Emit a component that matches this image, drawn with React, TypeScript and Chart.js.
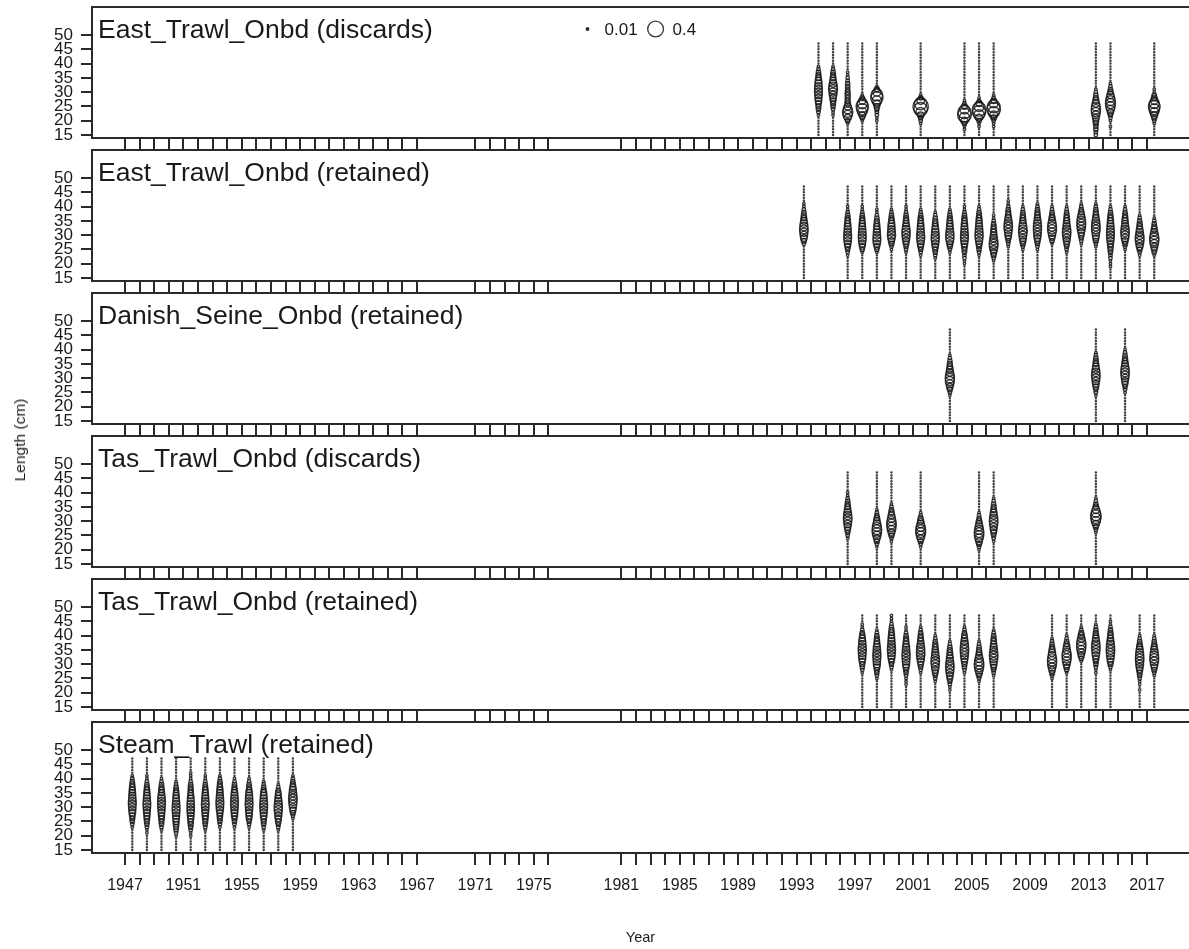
import React, { useEffect, useRef } from "react";
import { Chart, registerables } from "chart.js";

Chart.register(...registerables);

// ---------------- data ----------------
const LENGTH_BINS = [15, 16, 17, 18, 19, 20, 21, 22, 23, 24, 25, 26, 27, 28, 29, 30, 31, 32, 33, 34, 35, 36, 37, 38, 39, 40, 41, 42, 43, 44, 45, 46, 47];
const Y_TICKS = [15, 20, 25, 30, 35, 40, 45, 50];
const TICK_YEARS = [
  1947, 1948, 1949, 1950, 1951, 1952, 1953, 1954, 1955, 1956, 1957, 1958, 1959, 1960, 1961, 1962, 1963, 1964, 1965, 1966, 1967,
  1971, 1972, 1973, 1974, 1975, 1976,
  1981, 1982, 1983, 1984, 1985, 1986, 1987, 1988, 1989, 1990, 1991, 1992, 1993, 1994, 1995, 1996, 1997, 1998, 1999, 2000,
  2001, 2002, 2003, 2004, 2005, 2006, 2007, 2008, 2009, 2010, 2011, 2012, 2013, 2014, 2015, 2016, 2017,
];
const LABEL_YEARS = [1947, 1951, 1955, 1959, 1963, 1967, 1971, 1975, 1981, 1985, 1989, 1993, 1997, 2001, 2005, 2009, 2013, 2017];
const LEGEND_PROPS = [0.01, 0.4];
const LEGEND_LABELS = ["0.01", "0.4"];
// samples are plotted at mid-year (season 1 mid-point)
const MID_YEAR = 0.5;

// East_Trawl_Onbd (discards): year, first length bin listed, percent by 1 cm bin
const EAST_DISC_YEARS = [1994, 1995, 1996, 1997, 1998, 2001, 2004, 2005, 2006, 2013, 2014, 2017];
const EAST_DISC_FROM = [22, 22, 19, 20, 20, 19, 17, 18, 18, 15, 18, 19];
const EAST_DISC_PCT = [
  [1, 2, 3, 4, 5, 7, 8, 9, 10, 10, 9, 8, 7, 5, 4, 3, 2, 1],
  [1, 1, 2, 3, 4, 5, 7, 9, 11, 13, 12, 9, 7, 5, 4, 3, 2, 1],
  [1, 3, 8, 14, 17, 13, 8, 5, 4, 4, 4, 4, 3, 3, 3, 2, 2, 1, 1],
  [1, 3, 7, 13, 20, 24, 17, 8, 3, 1],
  [1, 1, 2, 2, 3, 5, 8, 15, 24, 22, 10, 4, 1],
  [1, 2, 3, 6, 14, 30, 38, 24, 9, 3, 1],
  [1, 1, 3, 8, 18, 30, 28, 14, 5, 2, 1],
  [1, 1, 3, 8, 18, 28, 30, 16, 6, 2, 1],
  [1, 1, 2, 5, 10, 20, 30, 26, 12, 5, 2, 1],
  [2, 2, 3, 3, 4, 5, 7, 10, 13, 14, 12, 9, 6, 4, 3, 2, 1],
  [1, 0, 1, 2, 3, 6, 10, 14, 16, 15, 11, 8, 5, 3, 2, 1],
  [1, 2, 4, 7, 12, 18, 22, 16, 9, 5, 3, 1, 1],
];

// East_Trawl_Onbd (retained)
const EAST_RET_YEARS = [1993, 1996, 1997, 1998, 1999, 2000, 2001, 2002, 2003, 2004, 2005, 2006, 2007, 2008, 2009, 2010, 2011, 2012, 2013, 2014, 2015, 2016, 2017];
const EAST_RET_FROM = [27, 23, 24, 24, 25, 24, 23, 22, 24, 20, 23, 21, 26, 25, 25, 27, 24, 27, 26, 19, 25, 23, 23];
const EAST_RET_PCT = [
  [2, 4, 7, 9, 11, 12, 11, 9, 7, 5, 4, 3, 2, 1, 1],
  [1, 2, 3, 5, 7, 9, 10, 10, 9, 8, 7, 6, 5, 4, 3, 2, 1, 1],
  [1, 3, 5, 7, 9, 10, 10, 9, 8, 7, 6, 5, 4, 3, 2, 1, 1],
  [1, 3, 5, 8, 10, 10, 9, 8, 7, 6, 5, 4, 3, 2, 1, 1],
  [1, 2, 4, 6, 9, 11, 10, 9, 8, 7, 5, 4, 3, 2, 1],
  [1, 2, 3, 5, 7, 9, 11, 11, 10, 8, 6, 5, 4, 3, 2, 1, 1],
  [1, 2, 3, 5, 7, 9, 11, 10, 9, 8, 7, 6, 5, 4, 3, 2, 1],
  [1, 2, 3, 4, 6, 8, 10, 11, 10, 9, 8, 6, 5, 4, 3, 2, 1],
  [1, 2, 4, 6, 9, 11, 11, 10, 8, 7, 6, 5, 4, 3, 2, 1],
  [1, 1, 2, 2, 3, 4, 5, 7, 9, 10, 10, 9, 8, 7, 6, 5, 4, 3, 2, 1, 1],
  [1, 2, 3, 4, 6, 8, 10, 11, 10, 9, 8, 7, 6, 5, 4, 3, 2, 1],
  [1, 2, 4, 6, 9, 12, 13, 11, 9, 7, 6, 5, 4, 3, 2, 1, 1],
  [1, 2, 3, 5, 7, 9, 11, 12, 11, 9, 7, 5, 4, 3, 2, 1, 1],
  [1, 2, 4, 6, 8, 10, 12, 12, 10, 8, 6, 5, 4, 3, 2, 1],
  [1, 2, 3, 5, 7, 9, 10, 11, 11, 10, 8, 6, 5, 4, 3, 2, 1],
  [1, 3, 5, 8, 11, 13, 13, 11, 8, 6, 4, 3, 2, 1],
  [1, 2, 3, 5, 7, 9, 11, 12, 11, 9, 7, 6, 5, 4, 3, 2, 1],
  [1, 2, 3, 5, 7, 10, 12, 13, 12, 10, 7, 5, 3, 2, 1],
  [1, 2, 4, 6, 8, 10, 12, 12, 11, 9, 7, 5, 4, 3, 2, 1],
  [1, 1, 1, 2, 2, 3, 4, 5, 6, 8, 9, 10, 10, 9, 8, 7, 6, 5, 4, 3, 2, 1],
  [1, 2, 4, 6, 9, 11, 12, 11, 9, 7, 6, 5, 4, 3, 2, 1],
  [1, 2, 4, 7, 10, 12, 13, 11, 9, 7, 5, 4, 3, 2, 1],
  [1, 3, 5, 8, 11, 14, 14, 11, 8, 6, 4, 3, 2, 1],
];

// Danish_Seine_Onbd (retained)
const DANISH_RET_YEARS = [2003, 2013, 2015];
const DANISH_RET_FROM = [24, 24, 25];
const DANISH_RET_PCT = [
  [1, 2, 4, 7, 10, 13, 14, 12, 9, 7, 5, 4, 3, 2, 1],
  [1, 2, 3, 5, 7, 9, 11, 12, 11, 9, 7, 5, 4, 3, 2, 1],
  [1, 2, 3, 5, 7, 9, 11, 12, 11, 9, 7, 5, 4, 3, 2, 1],
];

// Tas_Trawl_Onbd (discards)
const TAS_DISC_YEARS = [1996, 1998, 1999, 2001, 2005, 2006, 2013];
const TAS_DISC_FROM = [24, 21, 23, 21, 20, 23, 26];
const TAS_DISC_PCT = [
  [1, 2, 3, 5, 7, 9, 11, 12, 11, 9, 7, 5, 4, 3, 2, 1, 1],
  [1, 2, 4, 7, 11, 14, 15, 13, 10, 7, 5, 3, 2, 1],
  [1, 2, 4, 7, 11, 14, 15, 13, 10, 7, 5, 3, 2, 1],
  [1, 2, 4, 8, 12, 16, 16, 13, 9, 6, 4, 2, 1],
  [1, 2, 4, 7, 11, 14, 15, 13, 10, 7, 5, 3, 2, 1],
  [1, 2, 3, 5, 7, 9, 11, 12, 11, 9, 7, 5, 4, 3, 2, 1],
  [1, 2, 4, 8, 13, 17, 18, 14, 9, 5, 3, 2, 1],
];

// Tas_Trawl_Onbd (retained)
const TAS_RET_YEARS = [1997, 1998, 1999, 2000, 2001, 2002, 2003, 2004, 2005, 2006, 2010, 2011, 2012, 2013, 2014, 2016, 2017];
const TAS_RET_FROM = [27, 25, 28, 23, 27, 24, 21, 27, 24, 26, 25, 27, 31, 27, 28, 21, 26];
const TAS_RET_PCT = [
  [1, 2, 3, 4, 6, 8, 9, 10, 11, 10, 9, 8, 6, 5, 3, 2, 1, 1],
  [1, 2, 3, 4, 6, 8, 9, 10, 11, 10, 9, 8, 6, 5, 4, 3, 2, 1],
  [1, 2, 3, 5, 7, 9, 10, 11, 10, 9, 8, 7, 6, 5, 4, 3, 2, 1, 1, 1],
  [1, 1, 1, 2, 3, 4, 6, 8, 9, 10, 11, 10, 9, 8, 6, 5, 4, 3, 2, 1, 1],
  [1, 2, 3, 5, 7, 9, 11, 12, 11, 10, 8, 6, 5, 4, 3, 2, 1],
  [1, 2, 3, 5, 7, 9, 11, 12, 11, 9, 8, 6, 5, 4, 3, 2, 1],
  [1, 1, 2, 3, 5, 7, 9, 11, 12, 11, 9, 8, 6, 5, 4, 3, 2, 1],
  [1, 2, 3, 4, 6, 8, 10, 11, 12, 11, 10, 8, 6, 5, 3, 2, 1],
  [1, 2, 4, 7, 11, 14, 15, 13, 10, 7, 5, 4, 3, 2, 1],
  [1, 2, 3, 5, 7, 9, 11, 12, 11, 9, 8, 6, 5, 4, 3, 2, 1],
  [1, 2, 4, 7, 10, 13, 14, 13, 10, 8, 6, 4, 3, 2, 1],
  [1, 3, 5, 8, 11, 13, 14, 12, 9, 7, 5, 3, 2, 1],
  [1, 3, 6, 9, 12, 14, 14, 12, 9, 6, 4, 2, 1],
  [1, 1, 2, 3, 4, 6, 8, 10, 11, 12, 11, 9, 7, 5, 4, 3, 2, 1],
  [1, 2, 4, 6, 8, 10, 11, 12, 11, 10, 8, 6, 5, 4, 3, 2, 1, 1],
  [1, 0, 1, 1, 2, 3, 4, 6, 8, 10, 11, 12, 11, 10, 8, 6, 4, 3, 2, 1],
  [1, 2, 4, 6, 9, 12, 13, 12, 10, 8, 6, 4, 3, 2, 1],
];

// Steam_Trawl (retained)
const STEAM_RET_YEARS = [1947, 1948, 1949, 1950, 1951, 1952, 1953, 1954, 1955, 1956, 1957, 1958];
const STEAM_RET_FROM = [23, 21, 22, 20, 20, 22, 23, 23, 23, 22, 22, 26];
const STEAM_RET_PCT = [
  [1, 2, 3, 4, 5, 7, 8, 9, 10, 10, 9, 8, 7, 6, 5, 4, 3, 2, 1],
  [1, 1, 2, 3, 4, 5, 6, 7, 8, 9, 10, 9, 8, 7, 6, 5, 4, 3, 2, 1, 1],
  [1, 2, 3, 4, 5, 6, 7, 8, 9, 10, 10, 9, 8, 6, 5, 4, 3, 2, 1],
  [1, 2, 3, 4, 5, 6, 7, 8, 9, 10, 10, 9, 8, 7, 6, 5, 4, 3, 2, 1],
  [1, 1, 2, 3, 4, 5, 6, 7, 8, 9, 9, 9, 8, 7, 6, 5, 4, 4, 3, 2, 1, 1, 1],
  [1, 2, 3, 4, 5, 6, 7, 8, 9, 10, 9, 8, 7, 6, 5, 4, 3, 2, 1, 1],
  [1, 2, 3, 4, 5, 6, 8, 9, 10, 10, 9, 8, 7, 6, 5, 4, 3, 2, 1],
  [1, 2, 3, 4, 6, 7, 8, 9, 10, 10, 9, 8, 7, 5, 4, 3, 2, 1],
  [1, 2, 3, 5, 6, 7, 8, 9, 10, 9, 9, 8, 7, 5, 4, 3, 2, 1],
  [1, 2, 3, 4, 5, 7, 8, 9, 10, 10, 9, 8, 7, 6, 4, 3, 2, 1],
  [1, 2, 3, 5, 6, 8, 9, 11, 11, 10, 9, 7, 6, 5, 3, 2, 1],
  [1, 2, 4, 6, 8, 10, 11, 12, 11, 9, 8, 6, 4, 3, 2, 1],
];

const PANELS = [
  { title: "East_Trawl_Onbd (discards)", years: EAST_DISC_YEARS, from: EAST_DISC_FROM, pct: EAST_DISC_PCT },
  { title: "East_Trawl_Onbd (retained)", years: EAST_RET_YEARS, from: EAST_RET_FROM, pct: EAST_RET_PCT },
  { title: "Danish_Seine_Onbd (retained)", years: DANISH_RET_YEARS, from: DANISH_RET_FROM, pct: DANISH_RET_PCT },
  { title: "Tas_Trawl_Onbd (discards)", years: TAS_DISC_YEARS, from: TAS_DISC_FROM, pct: TAS_DISC_PCT },
  { title: "Tas_Trawl_Onbd (retained)", years: TAS_RET_YEARS, from: TAS_RET_FROM, pct: TAS_RET_PCT },
  { title: "Steam_Trawl (retained)", years: STEAM_RET_YEARS, from: STEAM_RET_FROM, pct: STEAM_RET_PCT },
];

// ---------------- layout / style ----------------
const PAGE_W = 1189;
const PAGE_H = 949;
const FIRST_TOP = 7;
const PERIOD = 143;
const PANEL_H = 131;
const GAP = 12;
const PAD_TOP = 2;
const Y_AXIS_W = 92;
const X_MIN = 1944.74;
const X_MAX = 2019.88;
const Y_MIN = 13.95;
const Y_MAX = 59.8;
const BUBBLE_SCALE = 12.5;
const FONT = "'Liberation Sans', Arial, Helvetica, sans-serif";
const AXIS_COLOR = "#2a2a2a";
const TEXT_COLOR = "#1a1a1a";
const BUBBLE_COLOR = "rgba(20,20,20,0.82)";

Chart.defaults.font.family = FONT;

function bubbleRadius(p: number) {
  if (p <= 0) return 0.55;
  return Math.max(BUBBLE_SCALE * Math.sqrt(p), 0.9);
}

const panelDecor = {
  id: "panelDecor",
  afterDraw(chart: any, _args: any, opts: any) {
    const { ctx, chartArea: a } = chart;
    ctx.save();
    // top border of the panel box
    ctx.strokeStyle = AXIS_COLOR;
    ctx.lineWidth = 2;
    ctx.beginPath();
    ctx.moveTo(a.left - 1, a.top);
    ctx.lineTo(a.right, a.top);
    ctx.stroke();
    // panel title
    ctx.fillStyle = TEXT_COLOR;
    ctx.font = `26.5px ${FONT}`;
    ctx.textBaseline = "alphabetic";
    ctx.textAlign = "left";
    ctx.fillText(opts.title, a.left + 6, a.top + 31);
    // bubble size legend
    if (opts.legend) {
      ctx.font = `17px ${FONT}`;
      ctx.textBaseline = "middle";
      const cy = a.top + 22;
      let x = (a.left + a.right) / 2 - 53;
      LEGEND_PROPS.forEach((p, i) => {
        ctx.strokeStyle = BUBBLE_COLOR;
        ctx.lineWidth = 1.4;
        ctx.beginPath();
        ctx.arc(x, cy, bubbleRadius(p), 0, Math.PI * 2);
        ctx.stroke();
        if (p < 0.05) {
          ctx.fillStyle = BUBBLE_COLOR;
          ctx.fill();
        }
        ctx.fillStyle = TEXT_COLOR;
        const tx = x + 17;
        ctx.fillText(LEGEND_LABELS[i], tx, cy + 1);
        x = tx + ctx.measureText(LEGEND_LABELS[i]).width + 18;
      });
    }
    ctx.restore();
  },
};

function buildPoints(panel: any) {
  const pts: { x: number; y: number; r: number }[] = [];
  panel.years.forEach((yr: number, j: number) => {
    const from = panel.from[j];
    const pct = panel.pct[j];
    LENGTH_BINS.forEach((b) => {
      const k = b - from;
      const v = k >= 0 && k < pct.length ? pct[k] : 0;
      pts.push({ x: yr + MID_YEAR, y: b, r: bubbleRadius(v / 100) });
    });
  });
  return pts;
}

function Panel({ index }: { index: number }) {
  const ref = useRef<HTMLCanvasElement | null>(null);
  const isLast = index === PANELS.length - 1;
  const top = FIRST_TOP + index * PERIOD - PAD_TOP;
  const height = isLast ? PAGE_H - top : PAD_TOP + PANEL_H + GAP;
  const xAxisH = height - PAD_TOP - PANEL_H;

  useEffect(() => {
    const panel = PANELS[index];
    const chart = new Chart(ref.current as HTMLCanvasElement, {
      type: "bubble",
      data: {
        datasets: [
          {
            data: buildPoints(panel),
            borderColor: BUBBLE_COLOR,
            backgroundColor: "rgba(0,0,0,0)",
            borderWidth: 1.4,
            hoverRadius: 0,
            clip: false,
          } as any,
        ],
      },
      options: {
        animation: false,
        responsive: false,
        devicePixelRatio: 1,
        layout: { autoPadding: false, padding: { top: PAD_TOP, left: 0, right: 0, bottom: 0 } },
        events: [],
        plugins: {
          legend: { display: false },
          tooltip: { enabled: false },
          panelDecor: { title: panel.title, legend: index === 0 },
        } as any,
        scales: {
          x: {
            type: "linear",
            min: X_MIN,
            max: X_MAX,
            afterBuildTicks: (s: any) => {
              s.ticks = TICK_YEARS.map((v) => ({ value: v }));
            },
            afterFit: (s: any) => {
              s.height = xAxisH;
              s.paddingLeft = 0;
              s.paddingRight = 0;
              s.paddingTop = 0;
              s.paddingBottom = 0;
            },
            ticks: {
              display: isLast,
              autoSkip: false,
              maxRotation: 0,
              padding: 11,
              color: TEXT_COLOR,
              font: { size: 16 },
              callback: (v: any) => (LABEL_YEARS.includes(Number(v)) ? String(v) : ""),
            },
            grid: { drawOnChartArea: false, drawTicks: true, tickLength: GAP, color: AXIS_COLOR, lineWidth: 2 },
            border: { display: true, color: AXIS_COLOR, width: 2 },
            title: isLast
              ? { display: true, text: "Year", color: TEXT_COLOR, font: { size: 14.5 }, padding: { top: 0, bottom: 2 } }
              : { display: false },
          },
          y: {
            type: "linear",
            min: Y_MIN,
            max: Y_MAX,
            afterBuildTicks: (s: any) => {
              s.ticks = Y_TICKS.map((v) => ({ value: v }));
            },
            afterFit: (s: any) => {
              s.width = Y_AXIS_W;
              s.paddingTop = 0;
              s.paddingBottom = 0;
              s.paddingLeft = 0;
              s.paddingRight = 0;
            },
            ticks: {
              autoSkip: false,
              padding: 8,
              color: TEXT_COLOR,
              font: { size: 17 },
              callback: (v: any) => String(v),
            },
            grid: { drawOnChartArea: false, drawTicks: true, tickLength: 11, color: AXIS_COLOR, lineWidth: 2 },
            border: { display: true, color: AXIS_COLOR, width: 2 },
          },
        },
      } as any,
      plugins: [panelDecor as any],
    });
    return () => chart.destroy();
  }, [index, xAxisH]);

  return (
    <canvas
      ref={ref}
      width={PAGE_W}
      height={height}
      style={{ position: "absolute", left: 0, top, width: PAGE_W, height, display: "block" }}
    />
  );
}

export default function App() {
  return (
    <div style={{ position: "absolute", left: 0, top: 0, width: PAGE_W, height: PAGE_H, background: "#fff", overflow: "hidden" }}>
      {PANELS.map((_, i) => (
        <Panel key={i} index={i} />
      ))}
      <div
        style={{
          position: "absolute",
          left: 20,
          top: 440,
          transform: "translate(-50%, -50%) rotate(-90deg)",
          fontFamily: FONT,
          fontSize: 15.5,
          color: TEXT_COLOR,
          whiteSpace: "nowrap",
        }}
      >
        Length (cm)
      </div>
    </div>
  );
}
